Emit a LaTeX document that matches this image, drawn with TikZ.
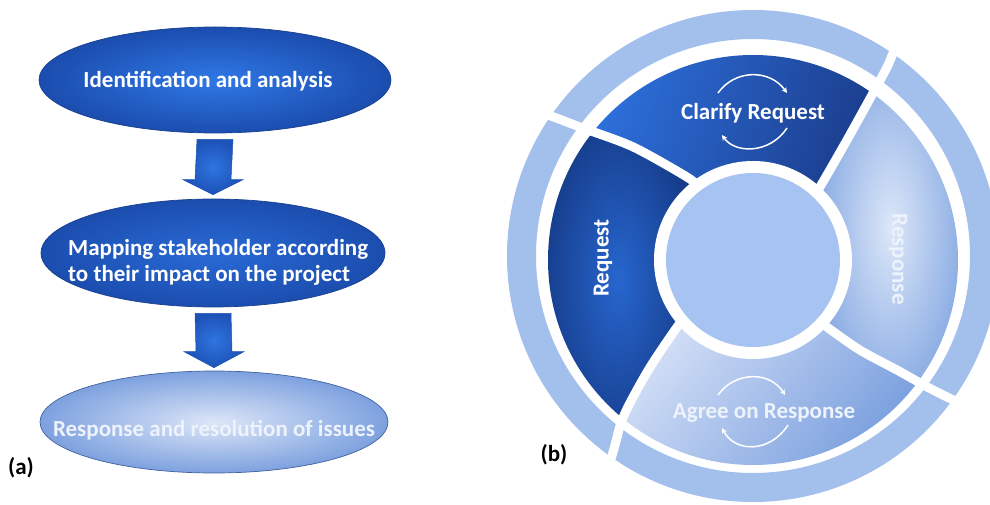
\documentclass[tikz,border=0pt]{standalone}
\usepackage{fontspec}
\setmainfont{Carlito}
\usetikzlibrary{shapes.geometric,calc,arrows.meta}

\definecolor{ellLine}{HTML}{1A4190}
\definecolor{ellCoreA}{HTML}{2F78E6}
\definecolor{ellEdgeA}{HTML}{1B4DAE}
\definecolor{ellCoreB}{HTML}{2A6AD6}
\definecolor{ellCoreC}{HTML}{DCE6F8}
\definecolor{ellEdgeC}{HTML}{7DA1DF}
\definecolor{ellLineC}{HTML}{41609E}
\definecolor{arrCore}{HTML}{2E74E0}
\definecolor{arrEdge}{HTML}{1D52B6}
\definecolor{ringBlue}{HTML}{A3BFEC}
\definecolor{coreBlue}{HTML}{A6C3F1}
\definecolor{paleText}{HTML}{EEF3FB}
\definecolor{respCore}{HTML}{DCE7F9}
\definecolor{respEdge}{HTML}{86A9E2}
\definecolor{clarBright}{HTML}{2D70DC}
\definecolor{clarDark}{HTML}{1A3A88}
\definecolor{reqCore}{HTML}{2766CE}
\definecolor{reqEdge}{HTML}{163C8A}
\definecolor{agrLight}{HTML}{D6E1F7}
\definecolor{agrDark}{HTML}{6E97DB}

\begin{document}
\begin{tikzpicture}[x=1pt,y=1pt,
  txt/.style={font=\bfseries\fontsize{23}{26}\selectfont, inner sep=0pt},
  wtxt/.style={txt, text=white},
  ptxt/.style={txt, text=paleText},
  stage/.style={ellipse, inner sep=0pt, line width=0.7pt},
  darkstage/.style={stage, draw=ellLine, inner color=#1, outer color=ellEdgeA},
  lightstage/.style={stage, draw=ellLineC, inner color=ellCoreC, outer color=ellEdgeC},
  blockarrow/.style={inner color=arrCore, outer color=arrEdge, draw=arrEdge, line width=0.5pt},
  gapline/.style={white, line width=9pt},
  cycarrow/.style={white, line width=1.5pt, -{Stealth[length=5.5pt,width=5.5pt]}},
]
\useasboundingbox (0,0) rectangle (990,504);
\clip (0,0) rectangle (990,504);

%% ---------- (a) stakeholder process ----------
\node[darkstage=ellCoreA, minimum width=352, minimum height=106] (e1) at (215,424) {};
\node[darkstage=ellCoreB, minimum width=344, minimum height=108] (e2) at (213,251) {};
\node[lightstage, minimum width=348, minimum height=102] (e3) at (214,82) {};

\node[wtxt, anchor=base] (t1) at (208,416) {Identification and analysis};
\node[wtxt, align=left, anchor=west] (t2) at (68,242)
  {Mapping stakeholder according\\to their impact on the project};
\node[ptxt, anchor=base] (t3) at (214,68) {Response and resolution of issues};

% block arrows between the stages
\coordinate (a1s) at ($(e1.south)+(0,-6)$);
\coordinate (a1e) at ($(e2.north)+(0,4)$);
\shade[blockarrow] ($(a1s)+(-18,0)$) -- ($(a1s)+(18,0)$) -- ($(a1e)+(18,15)$)
  -- ($(a1e)+(30,15)$) -- (a1e) -- ($(a1e)+(-30,15)$) -- ($(a1e)+(-18,15)$) -- cycle;
\coordinate (a2s) at ($(e2.south)+(0,-6)$);
\coordinate (a2e) at ($(e3.north)+(0,3)$);
\shade[blockarrow] ($(a2s)+(-18,0)$) -- ($(a2s)+(18,0)$) -- ($(a2e)+(18,16)$)
  -- ($(a2e)+(30,16)$) -- (a2e) -- ($(a2e)+(-30,16)$) -- ($(a2e)+(-18,16)$) -- cycle;

\node[txt, text=black] (la) at (21,36) {(a)};

%% ---------- (b) request / response cycle ----------
% outer segmented ring
\fill[ringBlue, even odd rule] (753,248) circle (246) (753,248) circle (217);

\begin{scope}[shift={(753,244)}]
  % Response segment (right)
  \begin{scope}
    \clip (0,0) circle (205);
    \clip (0,0) -- plot[smooth] coordinates {(-43:85) (-42.2:100) (-40.1:140) (-37.4:181) (-36.1:215) (-35.4:233) (-34.8:249) (-34.2:272)}
      -- (10:430) -- plot[smooth] coordinates {(56.5:272) (55.9:250) (55.2:235) (54.3:206) (51.9:152) (47.5:99) (46.5:85)} -- cycle;
    \shade[inner color=respCore, outer color=respEdge] (60,-150) rectangle (215,215);
  \end{scope}
  % Clarify Request segment (top)
  \begin{scope}
    \clip (0,0) circle (205);
    \clip (0,0) -- plot[smooth] coordinates {(46.5:85) (47.5:99) (51.9:152) (54.3:206) (55.2:235) (55.9:250) (56.5:272)}
      -- (101:430) -- plot[smooth] coordinates {(146:278) (145:256) (143.8:237) (142.2:215) (136.7:165) (128.5:106) (126.5:90)} -- cycle;
    \shade[top color=clarBright, bottom color=clarDark, shading angle=70] (-172,55) rectangle (142,212);
  \end{scope}
  % Request segment (left)
  \begin{scope}
    \clip (0,0) circle (205);
    \clip (0,0) -- plot[smooth] coordinates {(126.5:90) (128.5:106) (136.7:165) (142.2:215) (143.8:237) (145:256) (146:278)}
      -- (191:430) -- plot[smooth] coordinates {(236:272) (234.5:245) (233:228) (231:210) (229.3:189) (226.1:148) (221.4:101) (220:85)} -- cycle;
    \shade[inner color=reqCore, outer color=reqEdge] (-212,-190) rectangle (-58,150);
  \end{scope}
  % Agree on Response segment (bottom)
  \begin{scope}
    \clip (0,0) circle (205);
    \clip (0,0) -- plot[smooth] coordinates {(220:85) (221.4:101) (226.1:148) (229.3:189) (231:210) (233:228) (234.5:245) (236:272)}
      -- (281:430) -- plot[smooth] coordinates {(-34.2:272) (-34.8:249) (-35.4:233) (-36.1:215) (-37.4:181) (-40.1:140) (-42.2:100) (-43:85)} -- cycle;
    \shade[top color=agrLight, bottom color=agrDark, shading angle=50] (-152,-212) rectangle (212,-52);
  \end{scope}

  % white separations between the segments, running through the ring
  \draw[gapline] plot[smooth] coordinates {(-43:85) (-42.2:100) (-40.1:140) (-37.4:181) (-36.1:215) (-35.4:233) (-34.8:249) (-34.2:272)};
  \draw[gapline] plot[smooth] coordinates {(46.5:85) (47.5:99) (51.9:152) (54.3:206) (55.2:235) (55.9:250) (56.5:272)};
  \draw[gapline] plot[smooth] coordinates {(126.5:90) (128.5:106) (136.7:165) (142.2:215) (143.8:237) (145:256) (146:278)};
  \draw[gapline] plot[smooth] coordinates {(220:85) (221.4:101) (226.1:148) (229.3:189) (231:210) (233:228) (234.5:245) (236:272)};

  % hub
  \fill[white] (0,0) circle (99);
  \node[circle, fill=coreBlue, minimum size=174, inner sep=0pt] (hub) at (0,0) {};

  % segment labels
  \node[wtxt, anchor=base] (tclar) at (0,140) {Clarify Request};
  \node[ptxt, anchor=base] (tagree) at (11,-158) {Agree on Response};
  \node[wtxt, rotate=90] (treq) at (-150,2) {Request};
  \node[ptxt, rotate=-90] (tresp) at (145,1) {Response};

  % cycle arrows around the two step labels
  \draw[cycarrow] (-35,167) .. controls (-18,191) and (17,191) .. (34,167);
  \draw[cycarrow] (34,132) .. controls (17,106) and (-18,106) .. (-31,125);
  \draw[cycarrow] (-35,-135) .. controls (-18,-111) and (17,-111) .. (32,-135);
  \draw[cycarrow] (35,-165) .. controls (17,-193) and (-18,-193) .. (-31,-168);
\end{scope}

\node[txt, text=black] (lb) at (554,49) {(b)};
\end{tikzpicture}
\end{document}
